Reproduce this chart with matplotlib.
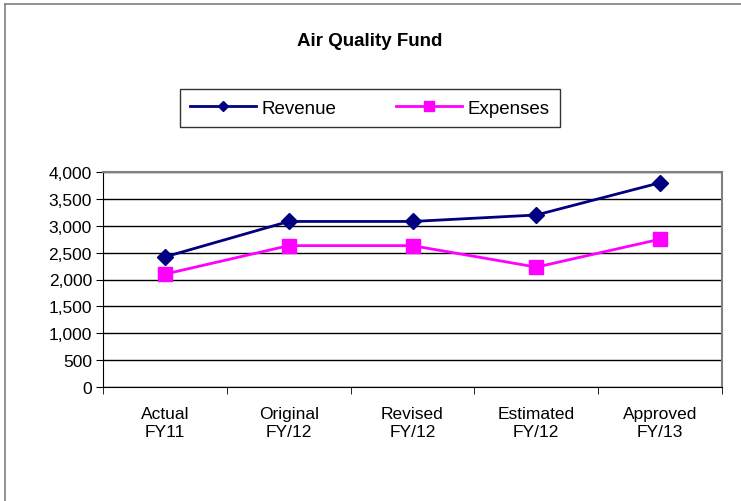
import matplotlib.pyplot as plt
from matplotlib.lines import Line2D
from matplotlib.ticker import FuncFormatter

categories = ['Actual\nFY11', 'Original\nFY/12', 'Revised\nFY/12', 'Estimated\nFY/12', 'Approved\nFY/13']
revenue = [2420, 3080, 3080, 3200, 3800]
expenses = [2100, 2630, 2630, 2230, 2750]

plt.rcParams['font.family'] = ['Liberation Sans', 'DejaVu Sans']

fig = plt.figure(figsize=(7.41, 5.02), dpi=100)
ax = fig.add_axes([103 / 741, 1 - 388 / 502, (722 - 103) / 741, (388 - 173) / 502])

x = list(range(len(categories)))
ax.plot(x, revenue, color='#000080', lw=2, marker='D', ms=8, label='Revenue', zorder=3)
ax.plot(x, expenses, color='#FF00FF', lw=2, marker='s', ms=10, label='Expenses', zorder=3)

ax.set_xlim(-0.5, len(categories) - 0.5)
ax.set_ylim(0, 4000)
ax.set_yticks(range(0, 4001, 500))
ax.yaxis.set_major_formatter(FuncFormatter(lambda v, p: f'{int(v):,}'))
ax.set_xticks(x)
ax.set_xticklabels(categories)
ax.set_xticks([i - 0.5 for i in range(len(categories) + 1)], minor=True)
ax.tick_params(axis='x', which='major', length=0, pad=14, labelsize=12.5)
ax.tick_params(axis='x', which='minor', length=5, direction='out', color='black')
ax.tick_params(axis='y', length=5, direction='out', labelsize=12.5, pad=3)

ax.grid(axis='y', color='black', lw=1)
ax.set_axisbelow(True)
for s in ['top', 'right']:
    ax.spines[s].set_color('#808080')
    ax.spines[s].set_linewidth(1.5)
ax.spines['left'].set_color('black')
ax.spines['bottom'].set_color('black')

fig.text(370 / 741, 1 - 42 / 502, 'Air Quality Fund', ha='center', va='center',
         fontsize=13.5, weight='bold')

leg = fig.legend(loc='center', bbox_to_anchor=(370 / 741, 1 - 109 / 502), ncol=2,
                 fontsize=13.5, frameon=True, fancybox=False, edgecolor='black',
                 handlelength=3.5, columnspacing=3.2, borderpad=0.55, handletextpad=0.3,
                 borderaxespad=0, markerscale=0.65)
leg.get_frame().set_linewidth(1)

# chart border (cut off on right and bottom)
fig.add_artist(Line2D([5 / 741, 5 / 741], [0, 1 - 5 / 502], color='#808080', lw=1.2))
fig.add_artist(Line2D([5 / 741, 1], [1 - 5 / 502, 1 - 5 / 502], color='#808080', lw=1.2))

fig.savefig('out.png', dpi=100)
